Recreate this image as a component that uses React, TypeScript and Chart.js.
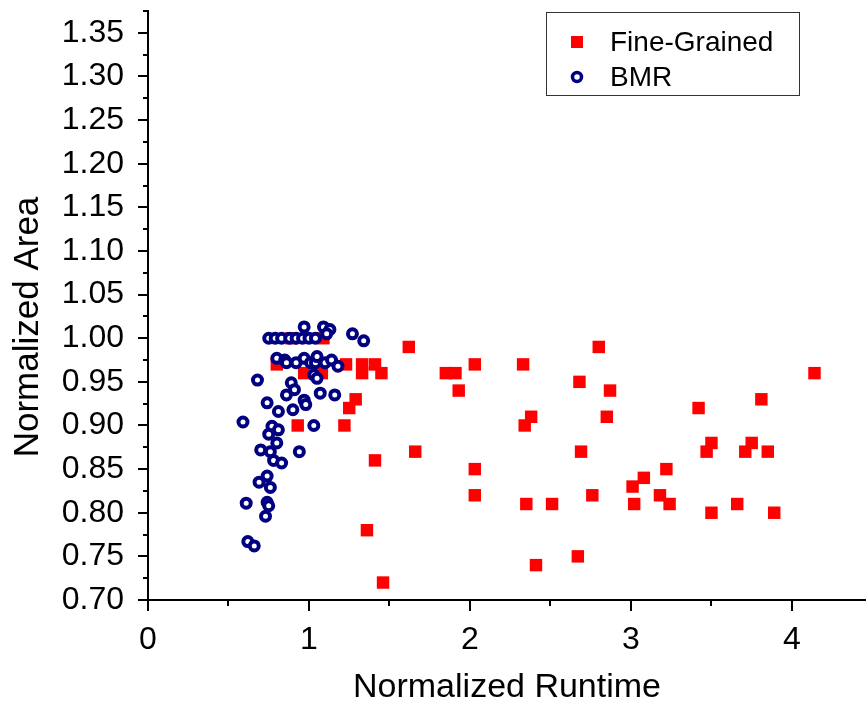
import React, { useEffect, useRef } from "react";
import { Chart, registerables } from "chart.js";

Chart.register(...registerables);

// Fine-Grained series (x = normalized runtime, y = normalized area)
const fineX = [0.80, 0.89, 1.09, 0.93, 0.97, 1.08, 1.23, 1.33, 1.33, 1.41, 1.45, 1.62, 2.80, 1.85, 1.91, 2.03, 2.33, 1.93, 2.68, 2.87, 1.29, 1.25, 1.22, 2.38, 2.34, 2.85, 1.66, 1.41, 2.69, 2.03, 3.08, 2.03, 1.36, 1.46, 2.35, 2.51, 2.41, 2.76, 2.67, 3.01, 3.02, 4.14, 3.81, 3.42, 3.50, 3.47, 3.75, 3.71, 3.85, 3.22, 3.18, 3.24, 3.50, 3.66, 3.89];
const fineY = [0.97, 1.00, 1.00, 0.90, 0.96, 0.96, 0.97, 0.97, 0.96, 0.97, 0.96, 0.99, 0.99, 0.96, 0.96, 0.97, 0.97, 0.94, 0.95, 0.94, 0.93, 0.92, 0.90, 0.91, 0.90, 0.91, 0.87, 0.86, 0.87, 0.85, 0.84, 0.82, 0.78, 0.72, 0.81, 0.81, 0.74, 0.82, 0.75, 0.83, 0.81, 0.96, 0.93, 0.92, 0.88, 0.87, 0.88, 0.87, 0.87, 0.85, 0.82, 0.81, 0.80, 0.81, 0.80];

// BMR series
const bmrX = [0.75, 0.79, 0.83, 0.88, 0.92, 0.96, 1.00, 1.04, 0.97, 1.09, 1.13, 1.11, 1.27, 1.34, 0.80, 0.85, 0.86, 0.92, 0.97, 1.01, 1.04, 1.05, 1.10, 1.14, 1.18, 1.03, 1.05, 0.68, 0.89, 0.91, 0.86, 0.97, 1.07, 1.16, 0.74, 0.81, 0.90, 0.98, 0.59, 0.77, 0.75, 0.81, 0.80, 0.70, 0.94, 1.03, 0.76, 0.78, 0.83, 0.74, 0.69, 0.76, 0.61, 0.74, 0.75, 0.73, 0.62, 0.66];
const bmrY = [1.000, 1.000, 1.000, 1.000, 1.000, 1.000, 1.000, 1.000, 1.013, 1.013, 1.010, 1.005, 1.005, 0.997, 0.977, 0.975, 0.972, 0.972, 0.977, 0.972, 0.972, 0.979, 0.972, 0.975, 0.968, 0.958, 0.954, 0.952, 0.949, 0.941, 0.935, 0.929, 0.937, 0.935, 0.926, 0.916, 0.918, 0.924, 0.904, 0.899, 0.890, 0.895, 0.880, 0.872, 0.870, 0.900, 0.870, 0.860, 0.857, 0.842, 0.835, 0.829, 0.811, 0.812, 0.808, 0.796, 0.767, 0.762];

const xMajorTicks = [0, 1, 2, 3, 4];
const xMinorTicks = [0.5, 1.5, 2.5, 3.5, 4.5];
const yMajorTicks = [0.70, 0.75, 0.80, 0.85, 0.90, 0.95, 1.00, 1.05, 1.10, 1.15, 1.20, 1.25, 1.30, 1.35];
const yMinorTicks = [0.725, 0.775, 0.825, 0.875, 0.925, 0.975, 1.025, 1.075, 1.125, 1.175, 1.225, 1.275, 1.325, 1.375];

const seriesNames = ["Fine-Grained", "BMR"];
const xTitle = "Normalized Runtime";
const yTitle = "Normalized Area";
const RED = "#ff0000";
const NAVY = "#000080";
const FONT = "'Liberation Sans', Arial, sans-serif";

const tickPlugin = {
  id: "customTicks",
  afterDraw(chart: any) {
    const { ctx, chartArea, scales } = chart;
    const xs = scales.x;
    const ys = scales.y;
    ctx.save();
    ctx.strokeStyle = "#000";
    ctx.lineWidth = 2;
    ctx.beginPath();
    const drawY = (v: number, len: number) => {
      const p = Math.round(ys.getPixelForValue(v));
      if (p < chartArea.top - 1) return;
      ctx.moveTo(chartArea.left - len, p);
      ctx.lineTo(chartArea.left, p);
    };
    const drawX = (v: number, len: number) => {
      const p = Math.round(xs.getPixelForValue(v));
      if (p > chartArea.right + 1) return;
      ctx.moveTo(p, chartArea.bottom);
      ctx.lineTo(p, chartArea.bottom + len);
    };
    yMajorTicks.forEach((v) => drawY(v, 10));
    yMinorTicks.forEach((v) => drawY(v, 5));
    xMajorTicks.forEach((v) => drawX(v, 11));
    xMinorTicks.forEach((v) => drawX(v, 6));
    ctx.stroke();

    // y axis title
    ctx.save();
    ctx.translate(28, 327);
    ctx.rotate(-Math.PI / 2);
    ctx.fillStyle = "#000";
    ctx.font = `35px ${FONT}`;
    ctx.textAlign = "center";
    ctx.textBaseline = "middle";
    ctx.fillText(yTitle, 0, 0);
    ctx.restore();

    // legend
    const bx = 546, by = 12, bw = 253, bh = 83;
    ctx.fillStyle = "#fff";
    ctx.fillRect(bx, by, bw, bh);
    ctx.strokeStyle = "#333";
    ctx.lineWidth = 1;
    ctx.strokeRect(bx + 0.5, by + 0.5, bw, bh);
    ctx.fillStyle = RED;
    ctx.fillRect(577 - 6, 42 - 6, 12, 12);
    ctx.beginPath();
    ctx.arc(577, 77, 4.5, 0, Math.PI * 2);
    ctx.fillStyle = "#fff";
    ctx.fill();
    ctx.strokeStyle = NAVY;
    ctx.lineWidth = 3.5;
    ctx.stroke();
    ctx.fillStyle = "#000";
    ctx.font = `28px ${FONT}`;
    ctx.textBaseline = "middle";
    ctx.textAlign = "left";
    ctx.fillText(seriesNames[0], 610, 43);
    ctx.fillText(seriesNames[1], 610, 78);
    ctx.restore();
  },
};

export default function App() {
  const ref = useRef<HTMLCanvasElement | null>(null);
  useEffect(() => {
    if (!ref.current) return;
    const fine = fineX.map((x, i) => ({ x, y: fineY[i] }));
    const bmr = bmrX.map((x, i) => ({ x, y: bmrY[i] }));
    const chart = new Chart(ref.current, {
      type: "scatter",
      data: {
        datasets: [
          {
            label: seriesNames[0],
            data: fine,
            order: 1,
            pointStyle: "rect",
            pointRadius: 8.8,
            borderWidth: 0,
            backgroundColor: RED,
            borderColor: RED,
          },
          {
            label: seriesNames[1],
            data: bmr,
            order: 0,
            pointStyle: "circle",
            pointRadius: 4.5,
            borderWidth: 4,
            backgroundColor: "#ffffff",
            borderColor: NAVY,
          },
        ],
      },
      options: {
        animation: false,
        responsive: false,
        events: [],
        layout: { autoPadding: false, padding: { top: 11, right: 0, left: 0, bottom: 0 } },
        plugins: { legend: { display: false }, tooltip: { enabled: false } },
        scales: {
          x: {
            type: "linear",
            min: 0,
            max: 4.46,
            grid: { display: false },
            border: { display: true, color: "#000", width: 2 },
            afterBuildTicks: (s: any) => {
              s.ticks = xMajorTicks.map((v) => ({ value: v }));
            },
            afterFit: (s: any) => {
              s.height = 108;
              s.paddingLeft = 0;
              s.paddingRight = 0;
            },
            ticks: {
              color: "#000",
              padding: 13,
              maxRotation: 0,
              font: { family: FONT, size: 32 },
              callback: (v: any) => String(v),
            },
            title: {
              display: true,
              text: xTitle,
              color: "#000",
              padding: { top: 0, bottom: 0 },
              font: { family: FONT, size: 34 },
            },
          },
          y: {
            type: "linear",
            min: 0.7,
            max: 1.375,
            grid: { display: false },
            border: { display: true, color: "#000", width: 2 },
            afterBuildTicks: (s: any) => {
              s.ticks = yMajorTicks.map((v) => ({ value: v }));
            },
            afterFit: (s: any) => {
              s.width = 148;
              s.paddingTop = 0;
              s.paddingBottom = 0;
            },
            ticks: {
              color: "#000",
              padding: 16,
              font: { family: FONT, size: 32 },
              callback: (v: any) => Number(v).toFixed(2),
            },
            title: { display: false },
          },
        },
      },
      plugins: [tickPlugin],
    });
    return () => chart.destroy();
  }, []);
  return (
    <div style={{ position: "fixed", left: 0, top: 0, width: 866, height: 708, background: "#fff" }}>
      <canvas ref={ref} width={866} height={708} style={{ width: 866, height: 708 }} />
    </div>
  );
}
